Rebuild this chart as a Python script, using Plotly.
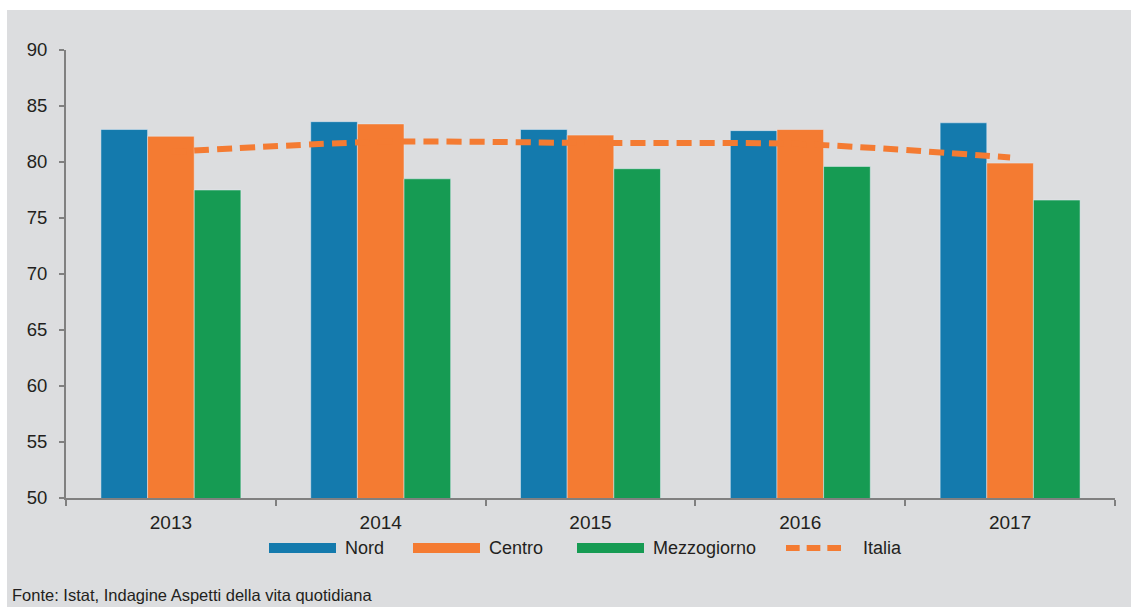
import plotly.graph_objects as go

years = ["2013", "2014", "2015", "2016", "2017"]
nord = [82.9, 83.6, 82.9, 82.8, 83.5]
centro = [82.3, 83.4, 82.4, 82.9, 79.9]
mezzogiorno = [77.5, 78.5, 79.4, 79.6, 76.6]
italia = [80.9, 81.8, 81.7, 81.6, 80.4]

C_NORD = "#147AAD"
C_CENTRO = "#F47B32"
C_MEZZ = "#169B53"
BG = "#DCDDDF"
TXT = "#231F20"
AX = "#808080"

W, H = 1131, 607
L, R, T, B = 66, 16, 50, 109
PW, PH = W - L - R, H - T - B

def px(x):
    return (x - L) / PW

def py(y):
    return (H - B - y) / PH

fig = go.Figure()
fig.add_bar(x=years, y=nord, name="Nord", marker_color=C_NORD)
fig.add_bar(x=years, y=centro, name="Centro", marker_color=C_CENTRO)
fig.add_bar(x=years, y=mezzogiorno, name="Mezzogiorno", marker_color=C_MEZZ)
fig.add_scatter(x=years, y=italia, name="Italia", mode="lines",
                line=dict(color=C_CENTRO, width=6, dash="15px,8px", shape="spline", smoothing=0.8))

shapes = [
    dict(type="rect", xref="paper", yref="paper", x0=px(7), x1=px(W + 5), y0=py(10), y1=py(H + 5),
         fillcolor=BG, line_width=0, layer="below"),
]
annotations = []
legend_items = [
    ("Nord", C_NORD, 269, 336, 343, "bar"),
    ("Centro", C_CENTRO, 413, 480, 487, "bar"),
    ("Mezzogiorno", C_MEZZ, 577, 644, 651, "bar"),
    ("Italia", C_CENTRO, 784, 846, 861, "line"),
]
ly = 548
for name, col, x0, x1, tx, kind in legend_items:
    if kind == "bar":
        shapes.append(dict(type="rect", xref="paper", yref="paper", x0=px(x0), x1=px(x1),
                           y0=py(ly + 5), y1=py(ly - 5), fillcolor=col, line_width=0))
    else:
        seg = (x1 - x0) / 3
        for i in range(3):
            a = x0 + i * seg + 2
            b = a + seg - 7
            shapes.append(dict(type="line", xref="paper", yref="paper", x0=px(a), x1=px(b),
                               y0=py(ly), y1=py(ly), line=dict(color=col, width=6)))
    annotations.append(dict(text=name, xref="paper", yref="paper", x=px(tx), y=py(ly),
                            xanchor="left", yanchor="middle", showarrow=False,
                            font=dict(family="Liberation Sans, Arial, sans-serif", size=18, color=TXT)))

annotations.append(dict(text="Fonte: Istat, Indagine Aspetti della vita quotidiana",
                        xref="paper", yref="paper", x=px(10), y=py(595),
                        xanchor="left", yanchor="middle", showarrow=False,
                        font=dict(family="Liberation Sans Narrow, Arial Narrow, Liberation Sans, sans-serif",
                                  size=16.5, color=TXT)))

fig.update_layout(
    width=W, height=H,
    margin=dict(l=L, r=R, t=T, b=B),
    paper_bgcolor="white",
    plot_bgcolor="rgba(0,0,0,0)",
    barmode="group", bargap=0.333, bargroupgap=0,
    showlegend=False,
    font=dict(family="Liberation Sans, Arial, sans-serif", size=18, color=TXT),
    shapes=shapes,
    annotations=annotations,
    xaxis=dict(showline=True, linecolor=AX, linewidth=2, ticks="outside", tickson="boundaries",
               ticklen=6, tickwidth=2, tickcolor=AX, showgrid=False, zeroline=False,
               tickfont=dict(size=19, color=TXT), ticklabelstandoff=6),
    yaxis=dict(range=[50, 90], dtick=5, showline=True, linecolor=AX, linewidth=2, ticks="outside",
               ticklen=5, tickwidth=2, tickcolor=AX, showgrid=False, zeroline=False,
               tickfont=dict(size=18.5, color=TXT), ticklabelstandoff=8),
)

fig.write_html("out.html")
